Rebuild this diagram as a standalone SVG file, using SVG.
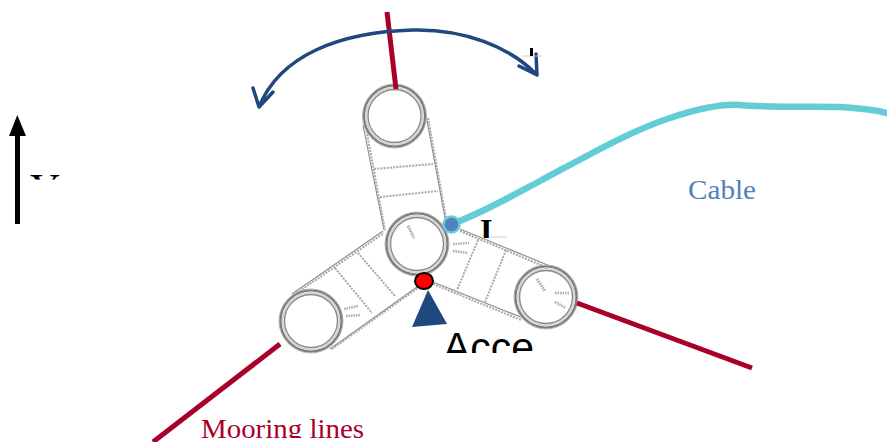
<svg xmlns="http://www.w3.org/2000/svg" width="887" height="442" viewBox="0 0 887 442">
<style>
.ring{fill:#fff;stroke:#8a8a8a}
.edge{fill:none;stroke:#8f8f8f;stroke-width:1.2}
.dots{fill:none;stroke:#a8a8a8;stroke-width:2;stroke-dasharray:2 1.2}
.moor{fill:none;stroke:#A80029;stroke-width:5}
.tick{fill:none;stroke:#aaa;stroke-width:2.500;stroke-dasharray:1.500 1}
.thin{fill:none;stroke:#ccc;stroke-width:1}
.dim{fill:none;stroke:#aaa;stroke-width:3;stroke-dasharray:1.500 1}
</style>
<defs>
<clipPath id="c1"><rect x="20" y="175" width="60" height="4.500"/></clipPath>
<clipPath id="c2"><rect x="440" y="320" width="120" height="33"/></clipPath>
<clipPath id="c3"><rect x="470" y="218" width="30" height="20"/></clipPath>
<clipPath id="c5"><rect x="195" y="410" width="180" height="28"/></clipPath>
<g id="ringShape">
<circle r="32" fill="#fff" stroke="#b5b5b5" stroke-width="1"/>
<circle r="30.500" fill="none" stroke="#7d7d7d" stroke-width="2.200"/>
<circle r="28.300" fill="none" stroke="#d0d0d0" stroke-width="1.500"/>
<circle r="26.500" class="ring" stroke-width="1.400"/>
</g>
</defs>
<g id="floater">
<g id="arm-top">
<path class="edge" d="M363 125L384 230M426 115L445 218"/>
<path class="dots" d="M366 128L385 230M428 118L446 218M374 169L433 164M380 197L438 191"/>
</g>
<g id="arm-right">
<path class="edge" d="M460 229L550 266M433 282L523 318"/>
<path class="dots" d="M460 231L548 268M433 284L521 320M478 240L457 290M506 250L485 302"/>
</g>
<g id="arm-left">
<path class="edge" d="M292 294L383 231M330 349L417 287"/>
<path class="dots" d="M294 295L384 233M332 349L418 288M335 268L372 313M358 253L395 296"/>
</g>
<g id="col-top"><use href="#ringShape" x="394.500" y="116"/></g>
<g id="col-center">
<use href="#ringShape" x="417" y="244"/>
<path class="dim" d="M408 226L414 238"/>
<path class="tick" d="M453 244L469 243M453 251L468 253"/>
</g>
<g id="col-right">
<use href="#ringShape" x="546" y="297"/>
<path class="dim" d="M537 279L545 291"/>
<path class="tick" d="M555 293L570 293M555 302L566 308"/>
</g>
<g id="col-left">
<use href="#ringShape" x="311" y="321"/>
<path class="tick" d="M344 309L358 306M346 316L361 315"/>
</g>
</g>
<g id="connectors">
<path class="moor" d="M387 12L396 89"/>
<path class="moor" d="M577 303L752 368"/>
<path class="moor" d="M280 344L153 442"/>
<path fill="none" stroke="#1F497D" stroke-width="3.500" stroke-linecap="round" stroke-linejoin="round" d="M259 107C280 55 340 32 413 30C465 29 510 47 537 75M253 88L259 107L273 92M519 66L537 75L536 54"/>
<path fill="none" stroke="#62CDD5" stroke-width="6.500" stroke-linecap="round" d="M452 224C480 214 510 197 540 181C585 157 630 131 670 118C700 108 725 104 740 105C770 108 810 106 840 107C860 108 875 110 887 113"/>
</g>
<g id="cable-point"><circle cx="451.500" cy="224.500" r="8" fill="#4F81BD" stroke="#62CDD5" stroke-width="2.500"/></g>
<g id="accel-point">
<polygon points="428,290 412,327 447,324" fill="#1F497D"/>
<ellipse cx="424" cy="281" rx="9" ry="8" fill="#FF0000" stroke="#000" stroke-width="2"/>
</g>
<g id="north-arrow">
<path d="M17.500 224V134" stroke="#000" stroke-width="5" fill="none"/>
<polygon points="17.300,115 9,136 26,136" fill="#000"/>
</g>
<g id="labels">
<text x="688" y="199" font-family="'Liberation Serif',serif" font-size="28" fill="#4F81BD" textLength="68" lengthAdjust="spacingAndGlyphs">Cable</text>
<g clip-path="url(#c5)"><text x="201" y="438" font-family="'Liberation Serif',serif" font-size="28" fill="#A80029" textLength="163" lengthAdjust="spacingAndGlyphs">Mooring lines</text></g>
<g clip-path="url(#c2)"><text x="443" y="362" font-family="'Liberation Sans',sans-serif" font-size="42" fill="#000" textLength="91" lengthAdjust="spacingAndGlyphs">Acce</text></g>
<g clip-path="url(#c1)"><text x="30" y="203" font-family="'Liberation Serif',serif" font-size="42" fill="#000">Y</text></g>
<g clip-path="url(#c3)"><text x="480" y="241" font-family="'Liberation Serif',serif" font-weight="bold" font-size="32" fill="#000">I</text></g>
<path class="thin" d="M490 237H507M522 56H542"/>
<rect x="530" y="48" width="3" height="8" fill="#000"/>
</g>
</svg>
